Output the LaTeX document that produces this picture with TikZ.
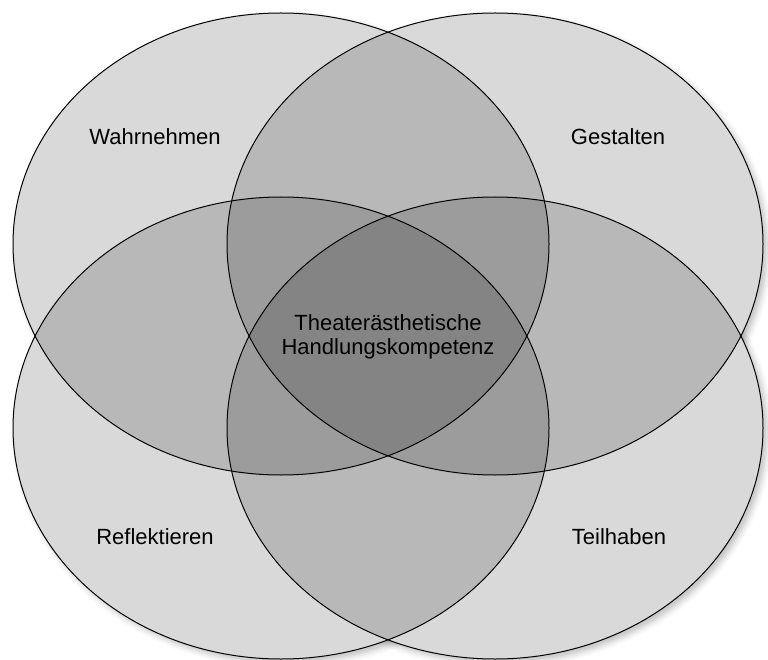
\documentclass[tikz,border=0pt]{standalone}
\usepackage{fontspec}
\setmainfont{Liberation Sans}
\usetikzlibrary{shapes.geometric,shadows.blur}
\begin{document}
\begin{tikzpicture}[x=1pt,y=-1pt,
                    feld/.style={ellipse,draw=black,line width=1pt,fill=black,fill opacity=0.15,
                                 inner sep=0pt,minimum width=536pt,minimum height=462pt},
                    beschriftung/.style={font=\fontsize{22}{23.5}\selectfont,align=center,inner sep=0pt}
                   ]
  \useasboundingbox (0,0) rectangle (768,660);

  % Schatten, dann weisser Grund
  \foreach \x/\y in {281/244,495/244,281/428,495/428}
    \path[blur shadow={shadow xshift=4pt,shadow yshift=-4pt,shadow blur radius=6pt,shadow opacity=25}]
      (\x,\y) ellipse [x radius=268pt,y radius=231pt];
  \foreach \x/\y in {281/244,495/244,281/428,495/428}
    \fill[white] (\x,\y) ellipse [x radius=268pt,y radius=231pt];

  \node[feld] (wahrnehmen) at (281,244) {};
  \node[feld] (gestalten) at (495,244) {};
  \node[feld] (reflektieren) at (281,428) {};
  \node[feld] (teilhaben) at (495,428) {};

  \node[beschriftung] (w) at (155,137) {Wahrnehmen};
  \node[beschriftung] (g) at (618,137) {Gestalten};
  \node[beschriftung] (r) at (155,537) {Reflektieren};
  \node[beschriftung] (t) at (619,537) {Teilhaben};
  \node[beschriftung] (mitte) at (388,337) {Theaterästhetische\\Handlungskompetenz};
\end{tikzpicture}
\end{document}
